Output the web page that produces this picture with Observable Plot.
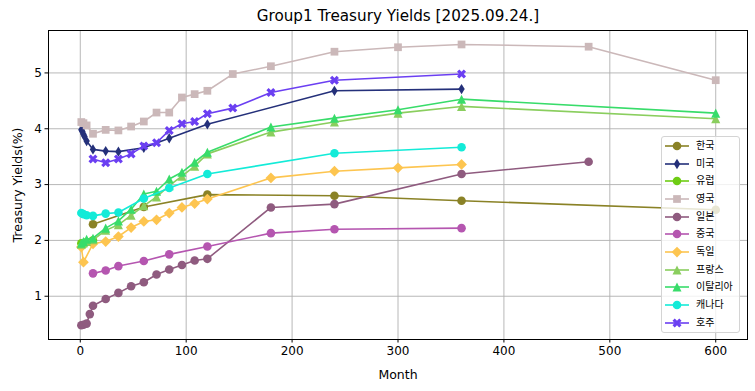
<!DOCTYPE html>
<html><head><meta charset="utf-8">
<script src="https://cdn.jsdelivr.net/npm/d3@7"></script>
<script src="https://cdn.jsdelivr.net/npm/@observablehq/plot@0.6"></script>
<style>
body{margin:0;background:#fff;}
#wrap{position:relative;width:755px;height:391px;overflow:hidden;}
#legend{position:absolute;left:661px;top:136px;width:79px;height:197px;background:rgba(255,255,255,0.8);border:1px solid #d4d4d4;border-radius:3px;box-sizing:border-box;font-family:"Noto Sans CJK KR";font-size:10px;color:#000;}
.row{position:absolute;left:0;height:14px;}
.row svg{position:absolute;left:2px;top:0;}
.row span{position:absolute;left:34px;top:-1px;line-height:14px;white-space:nowrap;}
</style></head><body><div id="wrap"></div>
<script>
// ---- data ----
const countries = ["한국","미국","유럽","영국","일본","중국","독일","프랑스","이탈리아","캐나다","호주"];
const colors = ["#8a8226","#24307a","#6ecc14","#cbb8b9","#8f5b7f","#b556b0","#fdc550","#8ace5e","#38dc6a","#13ebd8","#6b3ff2"];
const markers = ["o","d","o","s","o","o","D","^","^","o","X"];

const korMonths = [12,60,120,240,360,600];
const korYields = [2.29,2.60,2.82,2.80,2.71,2.55];
const usMonths = [1,2,3,4,6,12,24,36,60,84,120,240,360];
const usYields = [3.98,3.95,3.90,3.86,3.78,3.63,3.60,3.59,3.66,3.83,4.08,4.68,4.71];
const euMonths = [1,3,6,12];
const euYields = [1.95,1.93,1.97,2.00];
const ukMonths = [1,3,6,12,24,36,48,60,72,84,96,108,120,144,180,240,300,360,480,600];
const ukYields = [4.12,4.10,4.06,3.91,3.98,3.97,4.04,4.13,4.29,4.29,4.56,4.62,4.68,4.98,5.12,5.38,5.46,5.51,5.47,4.87];
const jpMonths = [1,3,6,9,12,24,36,48,60,72,84,96,108,120,180,240,360,480];
const jpYields = [0.48,0.49,0.51,0.68,0.83,0.95,1.06,1.18,1.25,1.39,1.48,1.56,1.64,1.67,2.59,2.65,3.19,3.41];
const cnMonths = [12,24,36,60,84,120,180,240,360];
const cnYields = [1.41,1.46,1.54,1.63,1.75,1.89,2.13,2.20,2.22];
const deMonths = [1,3,12,24,36,48,60,72,84,96,108,120,180,240,300,360];
const deYields = [1.88,1.61,1.94,1.98,2.07,2.23,2.34,2.37,2.49,2.59,2.66,2.74,3.12,3.24,3.30,3.36];
const frMonths = [1,3,6,12,24,36,48,60,72,84,96,108,120,180,240,300,360,600];
const frYields = [1.93,1.96,1.98,2.01,2.18,2.28,2.45,2.62,2.78,2.98,3.15,3.33,3.55,3.94,4.12,4.28,4.40,4.18];
const itMonths = [1,3,6,12,24,36,48,60,72,84,96,108,120,180,240,300,360,600];
const itYields = [1.95,1.98,2.02,2.04,2.22,2.35,2.56,2.83,2.88,3.10,3.22,3.40,3.58,4.03,4.19,4.34,4.53,4.28];
const caMonths = [1,3,6,12,24,36,60,84,120,240,360];
const caYields = [2.49,2.47,2.45,2.44,2.48,2.50,2.75,2.94,3.19,3.56,3.67];
const auMonths = [12,24,36,48,60,72,84,96,108,120,144,180,240,360];
const auYields = [3.46,3.39,3.46,3.55,3.69,3.75,3.97,4.09,4.13,4.27,4.37,4.65,4.87,4.98];

const xTicks = [0,100,200,300,400,500,600];
const yTicks = [1,2,3,4,5];
const titleText = "Group1 Treasury Yields [2025.09.24.]";
const xLabel = "Month";
const yLabel = "Treasury Yields(%)";

const monthSets = [korMonths,usMonths,euMonths,ukMonths,jpMonths,cnMonths,deMonths,frMonths,itMonths,caMonths,auMonths];
const yieldSets = [korYields,usYields,euYields,ukYields,jpYields,cnYields,deYields,frYields,itYields,caYields,auYields];

// ---- marker shapes (matplotlib-like) ----
function rad(size){ return Math.sqrt(size/Math.PI); }
const symbolMap = {
  "o": {draw(c,s){const r=rad(s); c.moveTo(r,0); c.arc(0,0,r,0,2*Math.PI); c.closePath();}},
  "s": {draw(c,s){const r=rad(s)*0.9; c.moveTo(-r,-r); c.lineTo(r,-r); c.lineTo(r,r); c.lineTo(-r,r); c.closePath();}},
  "D": {draw(c,s){const r=rad(s)*1.25; c.moveTo(0,-r); c.lineTo(r,0); c.lineTo(0,r); c.lineTo(-r,0); c.closePath();}},
  "d": {draw(c,s){const r=rad(s)*1.2; const w=r*0.62; c.moveTo(0,-r); c.lineTo(w,0); c.lineTo(0,r); c.lineTo(-w,0); c.closePath();}},
  "^": {draw(c,s){const r=rad(s)*1.05; c.moveTo(0,-r); c.lineTo(r,r); c.lineTo(-r,r); c.closePath();}},
  "X": {draw(c,s){const r=rad(s)*1.05; const t=r*0.5; 
      const pts=[[0,-t],[r-t,-r],[r,-r+t],[t,0],[r,r-t],[r-t,r],[0,t],[-r+t,r],[-r,r-t],[-t,0],[-r,-r+t],[-r+t,-r]];
      c.moveTo(pts[0][0],pts[0][1]); for(let i=1;i<pts.length;i++) c.lineTo(pts[i][0],pts[i][1]); c.closePath();}}
};

const series = countries.map((name,i)=>({
  name, color: colors[i], marker: markers[i],
  data: monthSets[i].map((m,j)=>({m, v: yieldSets[i][j]}))
}));

const marks = [
  Plot.gridX(xTicks, {stroke:"#b0b0b0", strokeOpacity:1, strokeWidth:0.9}),
  Plot.gridY(yTicks, {stroke:"#b0b0b0", strokeOpacity:1, strokeWidth:0.9})
];
series.forEach(s=>{
  marks.push(Plot.line(s.data,{x:"m",y:"v",stroke:s.color,strokeWidth:1.6}));
  marks.push(Plot.dot(s.data,{x:"m",y:"v",fill:s.color,stroke:"none",symbol:symbolMap[s.marker],r:4.3}));
});
marks.push(Plot.frame({stroke:"#000",strokeWidth:1}));
marks.push(Plot.axisX(xTicks,{tickSize:3.5,tickPadding:3,fontSize:12,label:null,tickFormat:d=>String(d)}));
marks.push(Plot.axisY(yTicks,{tickSize:3.5,tickPadding:3,fontSize:12,label:null,tickFormat:d=>String(d)}));
marks.push(Plot.text([xLabel],{frameAnchor:"bottom",lineAnchor:"middle",textAnchor:"middle",dy:35,fontSize:12.5}));
marks.push(Plot.text([yLabel],{frameAnchor:"left",lineAnchor:"middle",textAnchor:"middle",dx:-31,rotate:-90,fontSize:12.5}));
marks.push(Plot.text([titleText],{frameAnchor:"top",lineAnchor:"middle",textAnchor:"middle",dy:-14,fontSize:15.2}));

const chart = Plot.plot({
  width:755, height:391,
  marginLeft:48, marginRight:8, marginTop:30, marginBottom:52,
  style:{fontFamily:"DejaVu Sans", fontSize:"12px", background:"#fff", color:"#000"},
  x:{domain:[-30,630]},
  y:{domain:[0.225,5.76]},
  marks
});
const wrap = document.getElementById("wrap");
wrap.appendChild(chart);

// ---- legend ----
const leg = document.createElement("div");
leg.id = "legend";
series.forEach((s,i)=>{
  const row = document.createElement("div");
  row.className = "row";
  row.style.top = (2 + i*17.67) + "px";
  const p = d3.path();
  symbolMap[s.marker].draw(p, 4.3*4.3*Math.PI);
  row.innerHTML = `<svg width="28" height="14"><line x1="1" y1="7" x2="25" y2="7" stroke="${s.color}" stroke-width="1.6"/><path transform="translate(13,7)" d="${p.toString()}" fill="${s.color}"/></svg><span>${s.name}</span>`;
  leg.appendChild(row);
});
wrap.appendChild(leg);
</script></body></html>
